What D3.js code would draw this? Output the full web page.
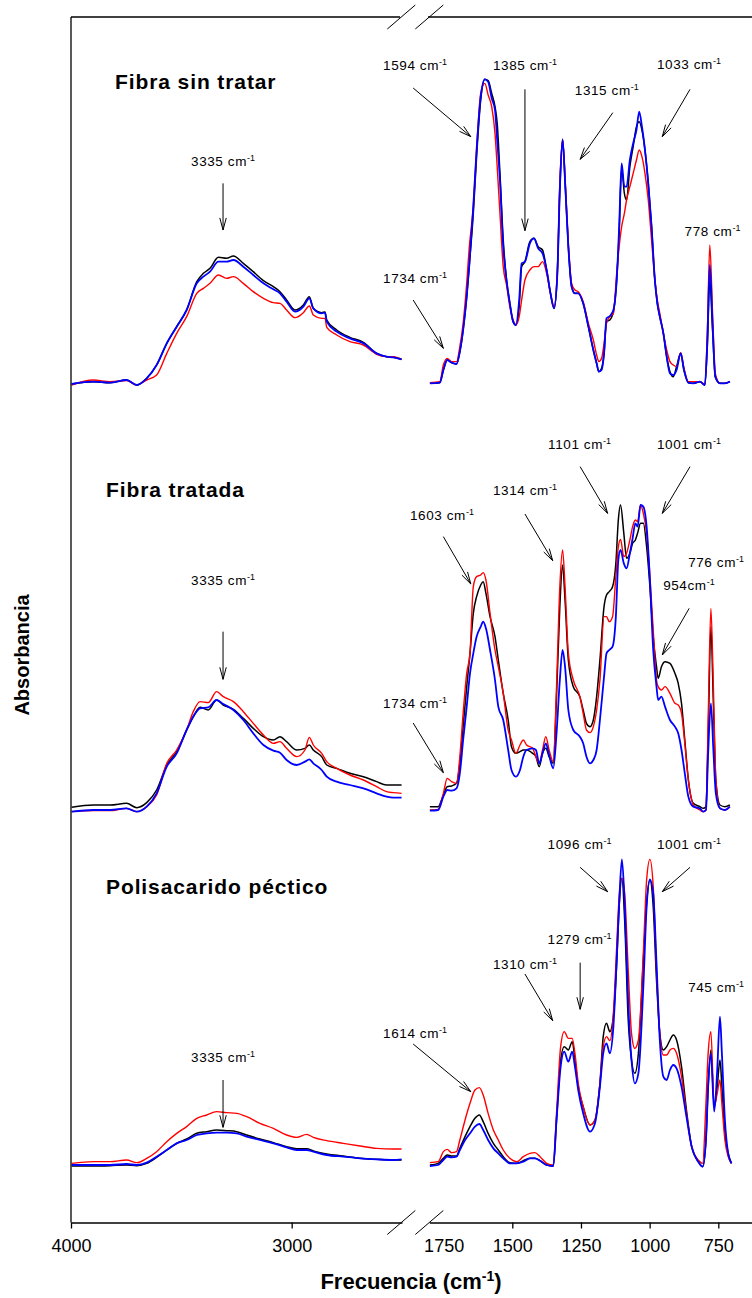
<!DOCTYPE html>
<html>
<head>
<meta charset="utf-8">
<script src="https://cdn.jsdelivr.net/npm/d3@7"></script>
<style>
  body { margin: 0; background: #fff; }
  svg { display: block; }
  text { font-family: "Liberation Sans", Arial, Helvetica, sans-serif; fill: #000; }
</style>
</head>
<body>
<svg id="chart" width="752" height="1298"></svg>
<script>
// ---------- FTIR spectra: wavenumber grids (cm-1) and absorbance (a.u.) ----------

// Fibra sin tratar
const wnHighSinTratar = [3997,3899,3823,3748,3702,3657,3612,3566,3521,3476,3430,3400,3370,3332,3295,3264,3219,3174,3128,3083,3053,3023,2985,2947,2920,2902,2864,2849,2841,2796,2736,2675,2615,2570,2539,2502];
const negraHighSinTratar = [0.006,0.013,0.010,0.018,0.003,0.023,0.063,0.128,0.178,0.228,0.313,0.338,0.353,0.386,0.383,0.390,0.368,0.343,0.316,0.298,0.283,0.258,0.228,0.243,0.268,0.233,0.220,0.222,0.198,0.168,0.146,0.131,0.098,0.088,0.086,0.080];
const azulHighSinTratar  = [0.006,0.013,0.010,0.018,0.003,0.023,0.063,0.128,0.178,0.228,0.308,0.328,0.343,0.373,0.373,0.378,0.358,0.333,0.308,0.290,0.278,0.253,0.223,0.238,0.263,0.233,0.218,0.220,0.193,0.163,0.143,0.128,0.098,0.088,0.086,0.080];
const rojaHighSinTratar  = [0.003,0.018,0.013,0.016,0.003,0.018,0.033,0.098,0.158,0.208,0.278,0.293,0.308,0.333,0.323,0.328,0.308,0.283,0.263,0.250,0.248,0.228,0.205,0.220,0.240,0.213,0.203,0.203,0.176,0.153,0.133,0.123,0.095,0.088,0.088,0.080];

const wnLowSinTratar = [1800,1764,1751,1737,1721,1703,1691,1679,1666,1657,1642,1630,1615,1600,1588,1575,1563,1555,1545,1533,1521,1509,1497,1487,1475,1466,1454,1436,1421,1406,1390,1375,1361,1348,1336,1327,1317,1307,1296,1284,1272,1260,1242,1223,1205,1193,1185,1175,1166,1157,1145,1132,1120,1111,1102,1092,1084,1072,1060,1048,1038,1028,1017,1005,993,981,972,963,950,938,926,914,902,887,875,859,841,817,799,790,781,771,761,744,726,708];
const negraLowSinTratar = [0.008,0.010,0.048,0.078,0.070,0.066,0.103,0.168,0.268,0.358,0.518,0.688,0.858,0.920,0.916,0.878,0.838,0.788,0.638,0.438,0.318,0.248,0.193,0.183,0.238,0.358,0.373,0.433,0.443,0.418,0.408,0.348,0.278,0.233,0.338,0.588,0.740,0.598,0.418,0.298,0.278,0.278,0.248,0.178,0.108,0.068,0.043,0.053,0.098,0.193,0.198,0.223,0.318,0.458,0.653,0.578,0.558,0.658,0.718,0.778,0.793,0.768,0.708,0.608,0.478,0.318,0.248,0.208,0.158,0.088,0.043,0.028,0.058,0.098,0.048,0.010,0.008,0.013,0.003,0.118,0.318,0.168,0.028,0.008,0.008,0.013];
const azulLowSinTratar  = [0.008,0.010,0.048,0.078,0.070,0.066,0.103,0.168,0.268,0.358,0.538,0.708,0.868,0.920,0.913,0.863,0.828,0.738,0.618,0.418,0.318,0.248,0.193,0.183,0.258,0.368,0.373,0.428,0.443,0.413,0.398,0.348,0.278,0.233,0.338,0.588,0.740,0.598,0.418,0.298,0.278,0.278,0.248,0.178,0.108,0.068,0.043,0.048,0.098,0.203,0.210,0.228,0.318,0.478,0.668,0.598,0.598,0.678,0.728,0.768,0.823,0.778,0.708,0.608,0.478,0.318,0.248,0.208,0.158,0.088,0.038,0.033,0.048,0.098,0.048,0.010,0.008,0.013,0.003,0.138,0.363,0.188,0.028,0.008,0.008,0.013];
const rojaLowSinTratar  = [0.010,0.013,0.063,0.083,0.073,0.073,0.118,0.188,0.308,0.413,0.538,0.708,0.878,0.908,0.873,0.838,0.758,0.658,0.518,0.358,0.303,0.238,0.198,0.183,0.208,0.258,0.318,0.348,0.358,0.358,0.373,0.338,0.278,0.238,0.348,0.608,0.738,0.608,0.428,0.308,0.288,0.283,0.253,0.188,0.138,0.093,0.073,0.083,0.128,0.188,0.208,0.218,0.338,0.418,0.478,0.518,0.558,0.598,0.638,0.678,0.708,0.688,0.638,0.558,0.438,0.318,0.258,0.218,0.158,0.108,0.073,0.063,0.058,0.100,0.053,0.013,0.013,0.013,0.005,0.158,0.423,0.218,0.038,0.008,0.008,0.013];

// Fibra tratada
const wnHighTratada = [3997,3899,3823,3748,3702,3657,3612,3566,3521,3476,3446,3415,3378,3340,3310,3264,3219,3174,3128,3083,3053,3023,2977,2940,2920,2902,2864,2841,2796,2736,2675,2615,2570,2539,2502];
const negraHighTratada = [0.014,0.021,0.021,0.026,0.013,0.028,0.066,0.141,0.181,0.246,0.286,0.314,0.306,0.336,0.321,0.308,0.281,0.251,0.226,0.216,0.226,0.211,0.186,0.191,0.201,0.186,0.166,0.141,0.131,0.116,0.106,0.091,0.081,0.081,0.081];
const azulHighTratada  = [0.001,0.006,0.006,0.011,0.001,0.016,0.056,0.136,0.176,0.246,0.286,0.311,0.314,0.336,0.324,0.306,0.276,0.236,0.201,0.184,0.178,0.156,0.141,0.151,0.158,0.146,0.126,0.106,0.091,0.081,0.071,0.056,0.046,0.043,0.043];
const rojaHighTratada  = [0.001,0.004,0.004,0.011,0.001,0.016,0.051,0.146,0.186,0.246,0.301,0.331,0.328,0.361,0.346,0.331,0.301,0.266,0.231,0.206,0.211,0.191,0.166,0.186,0.224,0.201,0.176,0.151,0.131,0.111,0.096,0.076,0.061,0.058,0.056];

const wnLowTratada = [1800,1770,1751,1737,1721,1703,1691,1679,1666,1654,1642,1630,1615,1606,1596,1581,1563,1551,1533,1515,1503,1487,1472,1460,1448,1426,1414,1402,1390,1378,1366,1351,1339,1327,1317,1308,1296,1278,1254,1242,1230,1217,1205,1193,1181,1166,1157,1147,1135,1123,1114,1106,1094,1084,1072,1062,1052,1044,1033,1023,1011,999,987,975,969,957,944,926,908,896,884,872,859,841,817,805,795,787,777,768,759,744,726,708];
const negraLowTratada = [0.016,0.016,0.051,0.076,0.078,0.086,0.146,0.256,0.376,0.476,0.596,0.646,0.681,0.691,0.656,0.586,0.526,0.456,0.356,0.276,0.196,0.176,0.181,0.186,0.186,0.176,0.166,0.136,0.176,0.191,0.166,0.146,0.346,0.616,0.741,0.636,0.456,0.376,0.346,0.306,0.266,0.256,0.276,0.346,0.456,0.616,0.651,0.661,0.676,0.746,0.876,0.921,0.836,0.761,0.776,0.806,0.816,0.836,0.866,0.866,0.796,0.676,0.526,0.436,0.401,0.436,0.451,0.446,0.416,0.386,0.326,0.216,0.096,0.026,0.016,0.011,0.016,0.226,0.556,0.326,0.096,0.021,0.016,0.021];
const azulLowTratada  = [0.004,0.006,0.046,0.066,0.064,0.071,0.116,0.216,0.316,0.416,0.476,0.526,0.556,0.571,0.551,0.486,0.396,0.316,0.276,0.186,0.126,0.106,0.126,0.166,0.186,0.191,0.186,0.146,0.176,0.206,0.171,0.131,0.236,0.396,0.486,0.436,0.306,0.246,0.226,0.206,0.166,0.146,0.156,0.186,0.276,0.406,0.476,0.486,0.496,0.586,0.756,0.786,0.746,0.731,0.776,0.821,0.866,0.856,0.921,0.916,0.856,0.696,0.486,0.376,0.336,0.346,0.316,0.276,0.256,0.236,0.186,0.116,0.046,0.016,0.011,0.001,0.006,0.176,0.326,0.186,0.056,0.011,0.006,0.016];
const rojaLowTratada  = [0.006,0.008,0.056,0.101,0.091,0.086,0.166,0.296,0.416,0.476,0.676,0.706,0.711,0.718,0.696,0.596,0.486,0.436,0.356,0.246,0.216,0.176,0.201,0.216,0.201,0.191,0.166,0.146,0.186,0.226,0.186,0.151,0.376,0.676,0.786,0.676,0.476,0.396,0.346,0.296,0.246,0.238,0.256,0.306,0.396,0.586,0.586,0.571,0.586,0.706,0.796,0.818,0.766,0.776,0.816,0.856,0.876,0.871,0.921,0.896,0.836,0.706,0.546,0.396,0.376,0.366,0.376,0.356,0.326,0.321,0.296,0.206,0.096,0.021,0.006,0.001,0.006,0.276,0.611,0.376,0.096,0.011,0.006,0.016];

// Polisacarido péctico
const wnHighPectico = [3997,3899,3823,3748,3702,3657,3612,3566,3521,3476,3430,3385,3340,3295,3249,3204,3144,3083,3023,2977,2932,2902,2841,2766,2690,2615,2539,2502];
const negraHighPectico = [0.006,0.006,0.007,0.009,0.007,0.014,0.032,0.054,0.074,0.087,0.104,0.109,0.114,0.112,0.109,0.099,0.087,0.076,0.064,0.058,0.058,0.051,0.042,0.036,0.029,0.026,0.024,0.024];
const azulHighPectico  = [0.009,0.009,0.009,0.012,0.009,0.016,0.034,0.054,0.074,0.084,0.099,0.104,0.106,0.106,0.104,0.094,0.084,0.074,0.062,0.054,0.054,0.049,0.039,0.034,0.029,0.026,0.024,0.026];
const rojaHighPectico  = [0.014,0.019,0.019,0.024,0.016,0.029,0.049,0.079,0.104,0.124,0.149,0.159,0.169,0.166,0.164,0.154,0.134,0.119,0.099,0.092,0.101,0.092,0.082,0.074,0.066,0.059,0.057,0.057];

const wnLowPectico = [1800,1770,1751,1737,1721,1703,1691,1672,1654,1636,1620,1606,1588,1569,1551,1533,1509,1484,1460,1436,1418,1399,1375,1351,1339,1324,1311,1296,1282,1272,1260,1242,1217,1199,1181,1169,1157,1145,1132,1120,1111,1101,1091,1078,1066,1054,1041,1023,1011,999,987,975,963,950,938,926,914,902,884,866,847,823,807,795,787,777,765,754,744,737,726,714,702];
const negraLowPectico = [0.009,0.014,0.029,0.039,0.036,0.036,0.059,0.094,0.124,0.149,0.159,0.139,0.104,0.074,0.054,0.034,0.016,0.014,0.022,0.029,0.029,0.022,0.009,0.006,0.144,0.324,0.364,0.354,0.379,0.324,0.244,0.184,0.129,0.144,0.254,0.394,0.434,0.409,0.454,0.614,0.784,0.869,0.744,0.444,0.324,0.284,0.344,0.624,0.794,0.864,0.784,0.564,0.404,0.354,0.364,0.384,0.399,0.384,0.304,0.174,0.064,0.019,0.004,0.084,0.244,0.354,0.184,0.244,0.324,0.244,0.104,0.044,0.014];
const azulLowPectico  = [0.006,0.009,0.024,0.034,0.032,0.034,0.054,0.084,0.104,0.124,0.132,0.114,0.084,0.059,0.044,0.029,0.014,0.014,0.019,0.029,0.029,0.022,0.009,0.006,0.144,0.304,0.349,0.319,0.349,0.304,0.234,0.164,0.109,0.134,0.244,0.344,0.374,0.344,0.424,0.624,0.794,0.926,0.794,0.494,0.324,0.254,0.284,0.544,0.784,0.866,0.824,0.614,0.384,0.274,0.264,0.294,0.309,0.299,0.244,0.154,0.064,0.019,0.004,0.084,0.244,0.344,0.169,0.294,0.454,0.344,0.144,0.044,0.014];
const rojaLowPectico  = [0.016,0.019,0.049,0.056,0.046,0.049,0.084,0.144,0.194,0.234,0.241,0.219,0.164,0.114,0.084,0.054,0.029,0.019,0.034,0.044,0.046,0.034,0.014,0.009,0.164,0.364,0.409,0.389,0.389,0.344,0.254,0.184,0.129,0.144,0.254,0.364,0.394,0.382,0.464,0.664,0.814,0.869,0.824,0.594,0.404,0.359,0.384,0.644,0.864,0.926,0.844,0.594,0.404,0.339,0.339,0.354,0.359,0.344,0.274,0.164,0.064,0.024,0.014,0.194,0.344,0.409,0.184,0.224,0.264,0.194,0.084,0.034,0.014];

// Axis tick labels
const ticksHigh = [4000, 3000];
const ticksLow = [1750, 1500, 1250, 1000, 750];

// Band assignments: label anchor (wn, A) and optional arrow [wn1, A1, wn2, A2]
const bandasSinTratar = [
  { s: "H", t: "3335 cm", x: 3311, y: 0.661, a: [3311, 0.608, 3311, 0.468] },
  { s: "L", t: "1594 cm", x: 1854, y: 0.948, a: [1861, 0.894, 1651, 0.748] },
  { s: "L", t: "1385 cm", x: 1454, y: 0.948, a: [1454, 0.890, 1454, 0.466] },
  { s: "L", t: "1315 cm", x: 1156, y: 0.873, a: [1134, 0.820, 1253, 0.680] },
  { s: "L", t: "1033 cm", x: 857, y: 0.951, a: [853, 0.890, 954, 0.748] },
  { s: "L", t: "778 cm", x: 771, y: 0.451 },
  { s: "L", t: "1734 cm", x: 1854, y: 0.308, a: [1861, 0.258, 1751, 0.113] }
];
const bandasTratada = [
  { s: "H", t: "3335 cm", x: 3311, y: 0.681, a: [3311, 0.541, 3311, 0.398] },
  { s: "L", t: "1603 cm", x: 1756, y: 0.876, a: [1751, 0.826, 1651, 0.684] },
  { s: "L", t: "1314 cm", x: 1454, y: 0.951, a: [1454, 0.894, 1353, 0.754] },
  { s: "L", t: "1101 cm", x: 1255, y: 1.089, a: [1253, 1.036, 1153, 0.896] },
  { s: "L", t: "1001 cm", x: 857, y: 1.089, a: [853, 1.036, 954, 0.896] },
  { s: "L", t: "776 cm", x: 758, y: 0.736 },
  { s: "L", t: "954cm", x: 857, y: 0.666, a: [856, 0.611, 954, 0.471] },
  { s: "L", t: "1734 cm", x: 1854, y: 0.313, a: [1861, 0.267, 1751, 0.118] }
];
const bandasPectico = [
  { s: "H", t: "3335 cm", x: 3311, y: 0.318, a: [3311, 0.264, 3311, 0.122] },
  { s: "L", t: "1614 cm", x: 1854, y: 0.390, a: [1861, 0.372, 1651, 0.229] },
  { s: "L", t: "1310 cm", x: 1454, y: 0.597, a: [1454, 0.582, 1353, 0.442] },
  { s: "L", t: "1279 cm", x: 1255, y: 0.671, a: [1253, 0.616, 1253, 0.476] },
  { s: "L", t: "1096 cm", x: 1255, y: 0.957, a: [1253, 0.902, 1153, 0.829] },
  { s: "L", t: "1001 cm", x: 857, y: 0.957, a: [853, 0.902, 954, 0.829] },
  { s: "L", t: "745 cm", x: 758, y: 0.529 }
];

// ---------- layout ----------
const svg = d3.select("#chart");
const frameLeft = 71, frameTop = 17, axisY = 1222.5;

// broken x axis: 4000–2500 on the left, 1802–627 on the right
const xHigh = d3.scaleLinear().domain([4000, 2500]).range([frameLeft, 402]);
const xLow = d3.scaleLinear().domain([1802, 627]).range([429.35, 752.1]);

const unitPx = 1000 / 3;
const panels = [
  { title: "Fibra sin tratar", tx: 115, ty: 89, base: 386,
    high: [wnHighSinTratar, negraHighSinTratar, rojaHighSinTratar, azulHighSinTratar],
    low: [wnLowSinTratar, negraLowSinTratar, rojaLowSinTratar, azulLowSinTratar],
    bands: bandasSinTratar },
  { title: "Fibra tratada", tx: 106, ty: 497, base: 812,
    high: [wnHighTratada, negraHighTratada, rojaHighTratada, azulHighTratada],
    low: [wnLowTratada, negraLowTratada, rojaLowTratada, azulLowTratada],
    bands: bandasTratada },
  { title: "Polisacarido péctico", tx: 106, ty: 894, base: 1168,
    high: [wnHighPectico, negraHighPectico, rojaHighPectico, azulHighPectico],
    low: [wnLowPectico, negraLowPectico, rojaLowPectico, azulLowPectico],
    bands: bandasPectico }
];
const colors = ["#000000", "#ff0000", "#0000ff"];
const widths = [1.5, 1.4, 1.8];

const plot = svg.append("g");

panels.forEach(p => {
  const y = d3.scaleLinear().domain([0, 1]).range([p.base, p.base - unitPx]);

  [[p.high, xHigh], [p.low, xLow]].forEach(([set, x]) => {
    const wn = set[0];
    for (let k = 1; k < set.length; k++) {
      const pts = wn.map((w, i) => [w, set[k][i]]);
      plot.append("path")
        .datum(pts)
        .attr("fill", "none")
        .attr("stroke", colors[k - 1])
        .attr("stroke-width", widths[k - 1])
        .attr("stroke-linejoin", "round")
        .attr("d", d3.line()
          .x(d => x(d[0]))
          .y(d => y(d[1]))
          .curve(d3.curveMonotoneX));
    }
  });

  // panel title
  svg.append("text")
    .attr("x", p.tx).attr("y", p.ty)
    .attr("font-size", 21).attr("font-weight", "bold")
    .attr("letter-spacing", 0.9)
    .text(p.title);

  // band labels and arrows
  p.bands.forEach(b => {
    const x = b.s === "H" ? xHigh : xLow;
    const t = svg.append("text")
      .attr("x", x(b.x)).attr("y", y(b.y))
      .attr("text-anchor", "middle")
      .attr("font-size", 13.5)
      .attr("letter-spacing", 0.6);
    t.append("tspan").text(b.t);
    t.append("tspan").attr("dy", -5).attr("font-size", 9).attr("letter-spacing", 0).text("-1");

    if (b.a) {
      const x1 = x(b.a[0]), y1 = y(b.a[1]), x2 = x(b.a[2]), y2 = y(b.a[3]);
      const ang = Math.atan2(y2 - y1, x2 - x1);
      const len = 12.5, spread = 15 * Math.PI / 180;
      const g = svg.append("g").attr("stroke", "#000").attr("stroke-width", 1).attr("fill", "none");
      g.append("line").attr("x1", x1).attr("y1", y1).attr("x2", x2).attr("y2", y2);
      [-spread, spread].forEach(s => {
        g.append("line")
          .attr("x1", x2).attr("y1", y2)
          .attr("x2", x2 - len * Math.cos(ang + s))
          .attr("y2", y2 - len * Math.sin(ang + s));
      });
    }
  });
});

// ---------- frame and axes ----------
const frame = svg.append("g").attr("stroke", "#000").attr("stroke-width", 1.3).attr("fill", "none");
frame.append("line").attr("x1", frameLeft).attr("y1", frameTop).attr("x2", frameLeft).attr("y2", axisY);
frame.append("line").attr("x1", frameLeft).attr("y1", frameTop).attr("x2", 400).attr("y2", frameTop);
frame.append("line").attr("x1", 428).attr("y1", frameTop).attr("x2", 752).attr("y2", frameTop);

// break marks, top and bottom
[frameTop, axisY].forEach(yy => {
  [0, 28].forEach(dx => {
    frame.append("line")
      .attr("x1", 387.3 + dx).attr("y1", yy + 12)
      .attr("x2", 415.3 + dx).attr("y2", yy - 12)
      .attr("stroke-width", 1);
  });
});

function styleAxis(g) {
  g.select(".domain").attr("stroke-width", 1.3);
  g.selectAll(".tick line").attr("stroke-width", 1.3);
  g.selectAll(".tick text")
    .attr("font-family", "'Liberation Sans', Arial, sans-serif")
    .attr("font-size", 18);
}

svg.append("g")
  .attr("transform", `translate(0,${axisY})`)
  .call(d3.axisBottom(xHigh).tickValues(ticksHigh).tickSize(6).tickSizeOuter(0).tickPadding(11).tickFormat(d3.format("d")))
  .call(styleAxis);

const lowAxis = svg.append("g")
  .attr("transform", `translate(0,${axisY})`)
  .call(d3.axisBottom(xLow).tickValues(ticksLow).tickSize(6).tickSizeOuter(0).tickPadding(11).tickFormat(d3.format("d")))
  .call(styleAxis);
lowAxis.selectAll(".tick").filter(d => d === 1750).select("line").remove();

// axis titles
const xt = svg.append("text")
  .attr("x", 411).attr("y", 1289)
  .attr("text-anchor", "middle")
  .attr("font-size", 22).attr("font-weight", "bold");
xt.append("tspan").text("Frecuencia (cm");
xt.append("tspan").attr("dy", -8).attr("font-size", 14).text("-1");
xt.append("tspan").attr("dy", 8).text(")");

svg.append("text")
  .attr("transform", "translate(29,655) rotate(-90)")
  .attr("text-anchor", "middle")
  .attr("font-size", 20).attr("font-weight", "bold")
  .text("Absorbancia");
</script>
</body>
</html>
